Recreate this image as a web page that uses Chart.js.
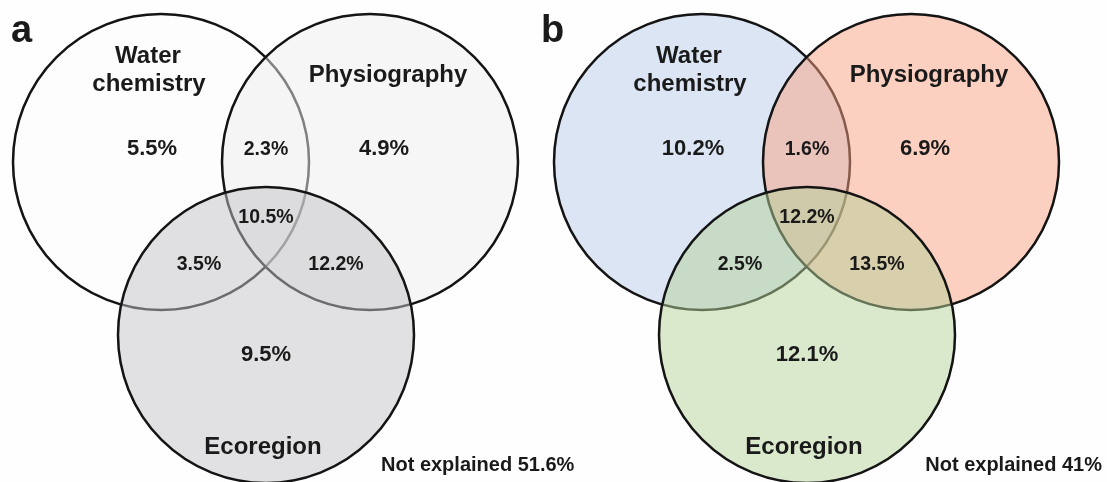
<!DOCTYPE html>
<html>
<head>
<meta charset="utf-8">
<script src="https://cdn.jsdelivr.net/npm/chart.js@4"></script>
<style>
  html, body { margin: 0; padding: 0; background: #fefefe; }
  #wrap { width: 1107px; height: 482px; }
</style>
</head>
<body>
<div id="wrap"><canvas id="venn" width="1107" height="482"></canvas></div>
<script>
// variance partitioning values (%)
const panels = ['a', 'b'];
const sets = ['Water chemistry', 'Physiography', 'Ecoregion'];
const uniqueA = [5.5, 4.9, 9.5];      // water only, physiography only, ecoregion only
const pairA = [2.3, 3.5, 12.2];       // W+P, W+E, P+E
const sharedA = 10.5;
const unexplainedA = 51.6;
const uniqueB = [10.2, 6.9, 12.1];
const pairB = [1.6, 2.5, 13.5];
const sharedB = 12.2;
const unexplainedB = 41;

// layout (chart units == pixels of panel a, panel b shifted right)
const panelShift = [0, 541];
const centers = [[161, 162], [370, 162], [266, 335]];
const radius = 148;
const uniquePos = [[152, 155], [384, 155], [266, 361]];
const pairPos = [[266, 155], [199, 270], [336, 270]];
const sharedPos = [266, 223];
const setLabelPos = [[[148, 63], [149, 91]], [[388, 82]], [[263, 454]]];
const panelLetterPos = [[11, 42], [541, 42]];
const unexplainedPos = [[381, 471, 'left'], [1102, 471, 'right']];

const fills = [
  ['rgba(251,251,251,0.5)', 'rgba(237,237,237,0.5)', 'rgba(195,195,199,0.5)'],
  ['rgba(183,203,231,0.5)', 'rgba(249,161,129,0.5)', 'rgba(181,209,153,0.5)']
];

const pct = v => v + '%';
const FONT = '"Liberation Sans", Arial, sans-serif';

const datasets = [];
panels.forEach((p, pi) => {
  sets.forEach((s, si) => {
    datasets.push({
      label: p + ' ' + s,
      data: [{ x: centers[si][0] + panelShift[pi], y: centers[si][1], r: radius }],
      backgroundColor: fills[pi][si],
      borderColor: '#141414',
      borderWidth: 2.5,
      order: 10 - si,   // water drawn first, ecoregion on top
      clip: false
    });
  });
});

const vennText = {
  id: 'vennText',
  afterDatasetsDraw(chart) {
    const { ctx, scales: { x, y } } = chart;
    const put = (txt, px, py, size, align) => {
      ctx.font = 'bold ' + size + 'px ' + FONT;
      ctx.textAlign = align || 'center';
      ctx.fillText(txt, x.getPixelForValue(px), y.getPixelForValue(py));
    };
    ctx.save();
    ctx.fillStyle = '#1a1a1a';
    ctx.textBaseline = 'alphabetic';
    const uniques = [uniqueA, uniqueB];
    const pairs = [pairA, pairB];
    const shared = [sharedA, sharedB];
    const unexplained = [unexplainedA, unexplainedB];
    panels.forEach((p, pi) => {
      const dx = panelShift[pi];
      put(p, panelLetterPos[pi][0], panelLetterPos[pi][1], 38, 'left');
      const names = [['Water', 'chemistry'], ['Physiography'], ['Ecoregion']];
      names.forEach((lines, si) => {
        lines.forEach((ln, li) => put(ln, setLabelPos[si][li][0] + dx, setLabelPos[si][li][1], 24));
      });
      uniques[pi].forEach((v, i) => put(pct(v), uniquePos[i][0] + dx, uniquePos[i][1], 22));
      pairs[pi].forEach((v, i) => put(pct(v), pairPos[i][0] + dx, pairPos[i][1], 19.5));
      put(pct(shared[pi]), sharedPos[0] + dx, sharedPos[1], 19.5);
      const u = unexplainedPos[pi];
      put('Not explained ' + pct(unexplained[pi]), u[0], u[1], 20, u[2]);
    });
    ctx.restore();
  }
};

new Chart(document.getElementById('venn'), {
  type: 'bubble',
  data: { datasets },
  options: {
    responsive: false,
    animation: false,
    events: [],
    layout: { padding: 0, autoPadding: false },
    plugins: { legend: { display: false }, tooltip: { enabled: false } },
    scales: {
      x: { type: 'linear', min: 0, max: 1107, display: false },
      y: { type: 'linear', min: 0, max: 482, reverse: true, display: false }
    }
  },
  plugins: [vennText]
});
</script>
</body>
</html>
